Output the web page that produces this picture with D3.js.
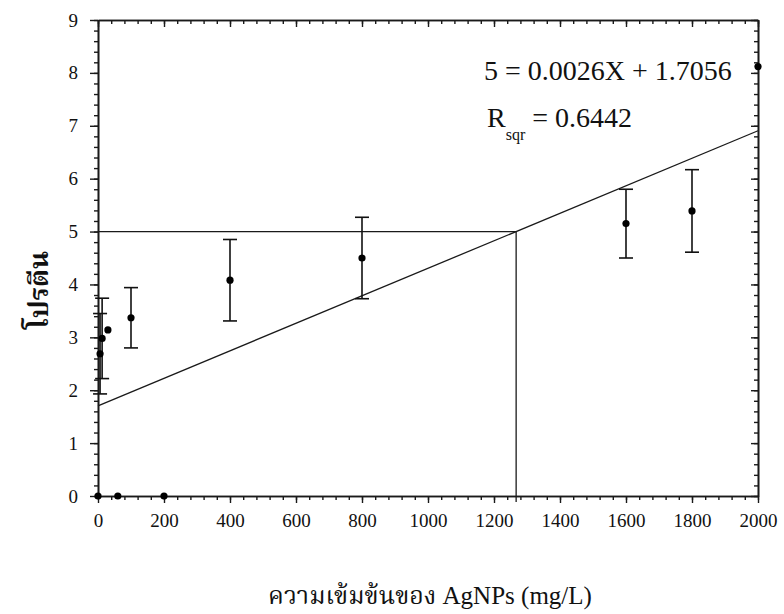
<!DOCTYPE html>
<html><head><meta charset="utf-8">
<script src="https://cdn.jsdelivr.net/npm/d3@7"></script>
<style>
body{margin:0;background:#fff}
svg{display:block}
text{font-family:"Liberation Serif","Times New Roman","Noto Serif Thai","Noto Sans Thai","DejaVu Sans",serif;fill:#111}
</style>
</head><body>
<svg id="c" width="784" height="614"></svg>
<script>
// ---- data ----
const concentrations = [0, 6.25, 12.5, 30, 60, 100, 200, 400, 800, 1600, 1800, 2000];
const protein        = [0, 2.69, 2.98, 3.14, 0, 3.37, 0, 4.08, 4.50, 5.15, 5.39, 8.12];
const proteinErr     = [0, 0.76, 0.76, 0, 0, 0.57, 0, 0.77, 0.77, 0.65, 0.78, 0];
const xTickValues = [0, 200, 400, 600, 800, 1000, 1200, 1400, 1600, 1800, 2000];
const yTickValues = [0, 1, 2, 3, 4, 5, 6, 7, 8, 9];
const slope = 0.0026, intercept = 1.7056, rSquared = 0.6442;
const targetProtein = 5;
const xTitle = "ความเข้มข้นของ AgNPs (mg/L)";
const yTitle = "โปรตีน";

// ---- layout ----
const L = 98, R = 758, T = 20, B = 496;
const svg = d3.select("#c");
const x = d3.scaleLinear().domain([0, 2000]).range([L, R]);
const y = d3.scaleLinear().domain([0, 9]).range([B, T]);
const xMinor = d3.range(0, 2001, 40);
const yMinor = d3.range(0, 9.001, 0.2);

function styleAxis(g){
  g.selectAll(".domain").attr("stroke","#1a1a1a").attr("stroke-width",1.6);
  g.selectAll(".tick line").attr("stroke","#1a1a1a").attr("stroke-width",1.4);
  g.selectAll("text").attr("font-size","19px").attr("fill","#111")
   .attr("font-family",'"Liberation Serif","Times New Roman",serif');
}
// minor ticks
svg.append("g").attr("transform",`translate(0,${B})`)
  .call(d3.axisBottom(x).tickValues(xMinor).tickSize(4).tickSizeOuter(0).tickFormat("")).call(styleAxis);
svg.append("g").attr("transform",`translate(${L},0)`)
  .call(d3.axisLeft(y).tickValues(yMinor).tickSize(4).tickSizeOuter(0).tickFormat("")).call(styleAxis);
svg.append("g").attr("transform",`translate(0,${T})`)
  .call(d3.axisTop(x).tickValues(xMinor).tickSize(-4).tickSizeOuter(0).tickFormat("")).call(styleAxis);
svg.append("g").attr("transform",`translate(${R},0)`)
  .call(d3.axisRight(y).tickValues(yMinor).tickSize(-4).tickSizeOuter(0).tickFormat("")).call(styleAxis);
// major ticks
svg.append("g").attr("transform",`translate(0,${B})`)
  .call(d3.axisBottom(x).tickValues(xTickValues).tickSize(7).tickPadding(11).tickSizeOuter(0).tickFormat(d3.format("d"))).call(styleAxis);
svg.append("g").attr("transform",`translate(${L},0)`)
  .call(d3.axisLeft(y).tickValues(yTickValues).tickSize(8).tickPadding(12).tickSizeOuter(0).tickFormat(d3.format("d"))).call(styleAxis);
svg.append("g").attr("transform",`translate(0,${T})`)
  .call(d3.axisTop(x).tickValues(xTickValues).tickSize(-7).tickSizeOuter(0).tickFormat("")).call(styleAxis);
svg.append("g").attr("transform",`translate(${R},0)`)
  .call(d3.axisRight(y).tickValues(yTickValues).tickSize(-7).tickSizeOuter(0).tickFormat("")).call(styleAxis);

// regression line
const xAtTarget = (targetProtein - intercept) / slope;
svg.append("line")
  .attr("x1", x(0)).attr("y1", y(intercept))
  .attr("x2", x(2000)).attr("y2", y(intercept + slope*2000))
  .attr("stroke","#1a1a1a").attr("stroke-width",1.3);
// guide lines
svg.append("line").attr("x1", x(0)).attr("x2", x(xAtTarget))
  .attr("y1", y(targetProtein)).attr("y2", y(targetProtein))
  .attr("stroke","#1a1a1a").attr("stroke-width",1.3);
svg.append("line").attr("x1", x(xAtTarget)).attr("x2", x(xAtTarget))
  .attr("y1", y(targetProtein)).attr("y2", y(0)+6)
  .attr("stroke","#1a1a1a").attr("stroke-width",1.3);

// data
const pts = concentrations.map((c,i)=>({c, v:protein[i], e:proteinErr[i]}));
const eb = svg.append("g").attr("stroke","#111").attr("stroke-width",1.6);
pts.filter(d=>d.e>0).forEach(d=>{
  eb.append("line").attr("x1",x(d.c)).attr("x2",x(d.c)).attr("y1",y(d.v-d.e)).attr("y2",y(d.v+d.e));
  [d.v-d.e, d.v+d.e].forEach(v=>{
    eb.append("line").attr("x1",x(d.c)-7).attr("x2",x(d.c)+7).attr("y1",y(v)).attr("y2",y(v));
  });
});
svg.append("g").selectAll("circle").data(pts).join("circle")
  .attr("cx",d=>x(d.c)).attr("cy",d=>y(d.v)).attr("r",3.6).attr("fill","#000");

// equation text
svg.append("text").attr("x",484).attr("y",80).attr("font-size","28px")
  .text(`${targetProtein} = ${slope}X + ${intercept}`);
const r2 = svg.append("text").attr("x",487).attr("y",127).attr("font-size","28px");
r2.append("tspan").text("R");
r2.append("tspan").attr("font-size","16px").attr("dy",13).text("sqr");
r2.append("tspan").attr("dy",-13).text(` = ${rSquared}`);

// axis titles
svg.append("text").attr("x",430).attr("y",604).attr("text-anchor","middle")
  .attr("font-size","25px").text(xTitle);
svg.append("text").attr("transform","translate(48,290) rotate(-90)").attr("text-anchor","middle")
  .attr("font-size","27px").attr("font-weight","bold").text(yTitle);
</script>
</body></html>
